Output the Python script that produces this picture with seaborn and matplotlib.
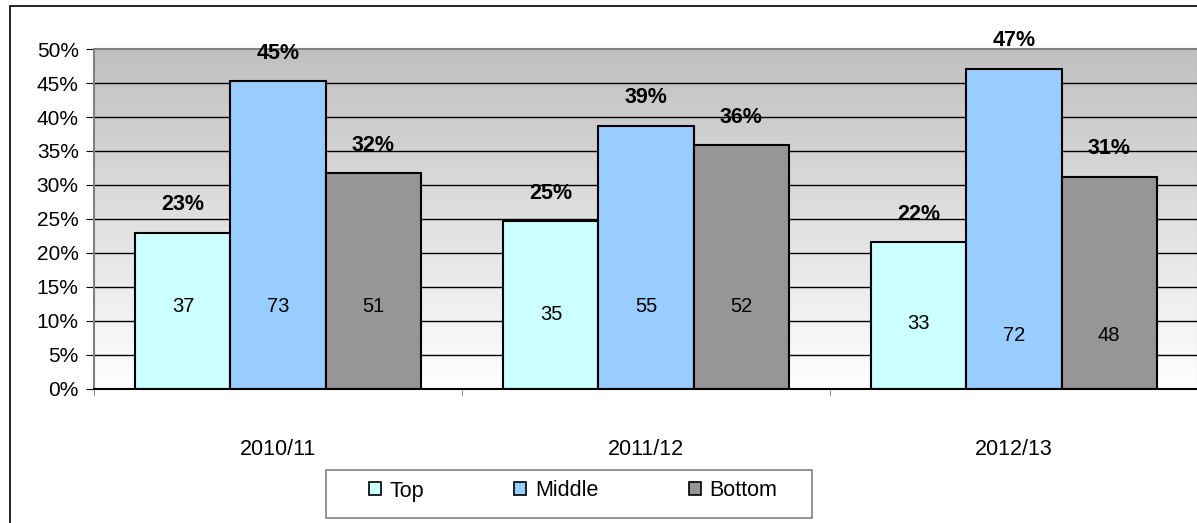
import numpy as np
import pandas as pd
import matplotlib
matplotlib.use("Agg")
import matplotlib.pyplot as plt
import seaborn as sns
from matplotlib.patches import Rectangle, Patch
from matplotlib.colors import LinearSegmentedColormap

years = ["2010/11", "2011/12", "2012/13"]
groups = ["Top", "Middle", "Bottom"]
pct_top = [23.0, 24.7, 21.6]
pct_middle = [45.3, 38.7, 47.1]
pct_bottom = [31.7, 35.9, 31.2]
cnt_top = [37, 35, 33]
cnt_middle = [73, 55, 72]
cnt_bottom = [51, 52, 48]
pct_labels_top = ["23%", "25%", "22%"]
pct_labels_middle = ["45%", "39%", "47%"]
pct_labels_bottom = ["32%", "36%", "31%"]
colors = {"Top": "#CCFFFF", "Middle": "#99CCFF", "Bottom": "#969696"}

sns.set_style("white")
plt.rcParams["font.family"] = ["Liberation Sans", "DejaVu Sans"]
for k in ["text.color", "axes.labelcolor", "xtick.color", "ytick.color"]:
    plt.rcParams[k] = "black"

rows = []
for i, y in enumerate(years):
    rows.append(dict(year=y, group="Top", pct=pct_top[i], cnt=cnt_top[i], lab=pct_labels_top[i]))
    rows.append(dict(year=y, group="Middle", pct=pct_middle[i], cnt=cnt_middle[i], lab=pct_labels_middle[i]))
    rows.append(dict(year=y, group="Bottom", pct=pct_bottom[i], cnt=cnt_bottom[i], lab=pct_labels_bottom[i]))
df = pd.DataFrame(rows)

fig = plt.figure(figsize=(11.97, 5.23), dpi=100)
ax = fig.add_axes([94/1197, (523-389)/523, 1104/1197, 340/523])

# gradient background
grad = np.linspace(0, 1, 256).reshape(-1, 1)
cmap = LinearSegmentedColormap.from_list("g", ["#FFFFFF", "#C0C0C0"])
ax.imshow(grad, extent=[0, 1, 0, 1], transform=ax.transAxes, cmap=cmap,
          aspect="auto", zorder=0, origin="lower")

for yv in range(5, 50, 5):
    ax.axhline(yv, color="black", lw=1.0, zorder=1)

sns.barplot(data=df, x="year", y="pct", hue="group", hue_order=groups,
            palette=colors, width=0.775, edgecolor="black", linewidth=1.5,
            saturation=1, ax=ax, legend=False, zorder=2)

# labels
count_y = {("2010/11", "Top"): 12.1, ("2010/11", "Middle"): 12.1, ("2010/11", "Bottom"): 12.1,
           ("2011/12", "Top"): 11.0, ("2011/12", "Middle"): 12.1, ("2011/12", "Bottom"): 12.1,
           ("2012/13", "Top"): 9.7, ("2012/13", "Middle"): 7.9, ("2012/13", "Bottom"): 7.9}
bw = 0.775 / 3
for _, r in df.iterrows():
    i = years.index(r["year"])
    j = groups.index(r["group"])
    xc = i - 0.775/2 + bw*(j + 0.5)
    ax.text(xc, r["pct"] + 4.1, r["lab"], ha="center", va="center",
            fontsize=15.5, fontweight="bold", zorder=5, clip_on=False)
    ax.text(xc, count_y[(r["year"], r["group"])], str(r["cnt"]), ha="center",
            va="center", fontsize=14.5, zorder=5)

ax.set_xlim(-0.5, 2.5)
ax.set_ylim(0, 50)
ax.set_yticks(range(0, 51, 5))
ax.set_yticklabels([f"{v}%" for v in range(0, 51, 5)], fontsize=15)
ax.set_xticks(range(3))
ax.set_xticklabels(years, fontsize=15.5)
ax.set_xticks([-0.5, 0.5, 1.5, 2.5], minor=True)
ax.tick_params(axis="x", which="major", length=0, pad=36)
ax.tick_params(axis="x", which="minor", length=5, direction="out", color="#808080", bottom=True)
ax.tick_params(axis="y", length=6, direction="out", color="black", left=True, pad=5)
ax.set_xlabel("")
ax.set_ylabel("")

for s in ["top", "right", "left"]:
    ax.spines[s].set_color("#808080")
    ax.spines[s].set_linewidth(1.5)
ax.spines["bottom"].set_color("black")
ax.spines["bottom"].set_linewidth(1.5)

# outer chart border
fig.patches.append(Rectangle((10/1197, -0.1), 1.2, (523-6)/523 + 0.1, transform=fig.transFigure,
                             fill=False, edgecolor="black", lw=1.2, zorder=10))

# legend frame
fig.patches.append(Rectangle((326/1197, (523-518)/523), 486/1197, 48/523, transform=fig.transFigure,
                             fill=True, facecolor="white", edgecolor="#808080", lw=1.2, zorder=10))
handles = [Patch(facecolor=colors[g], edgecolor="black", lw=1.2, label=g) for g in groups]
leg = fig.legend(handles=handles, loc="center", ncol=3,
                 bbox_to_anchor=(573/1197, 1 - 491/523),
                 fontsize=15.5, handlelength=0.55, handleheight=0.55, handletextpad=0.4,
                 columnspacing=4.2, frameon=False, borderpad=0)
leg.set_zorder(11)

fig.savefig("out.png", dpi=100)
